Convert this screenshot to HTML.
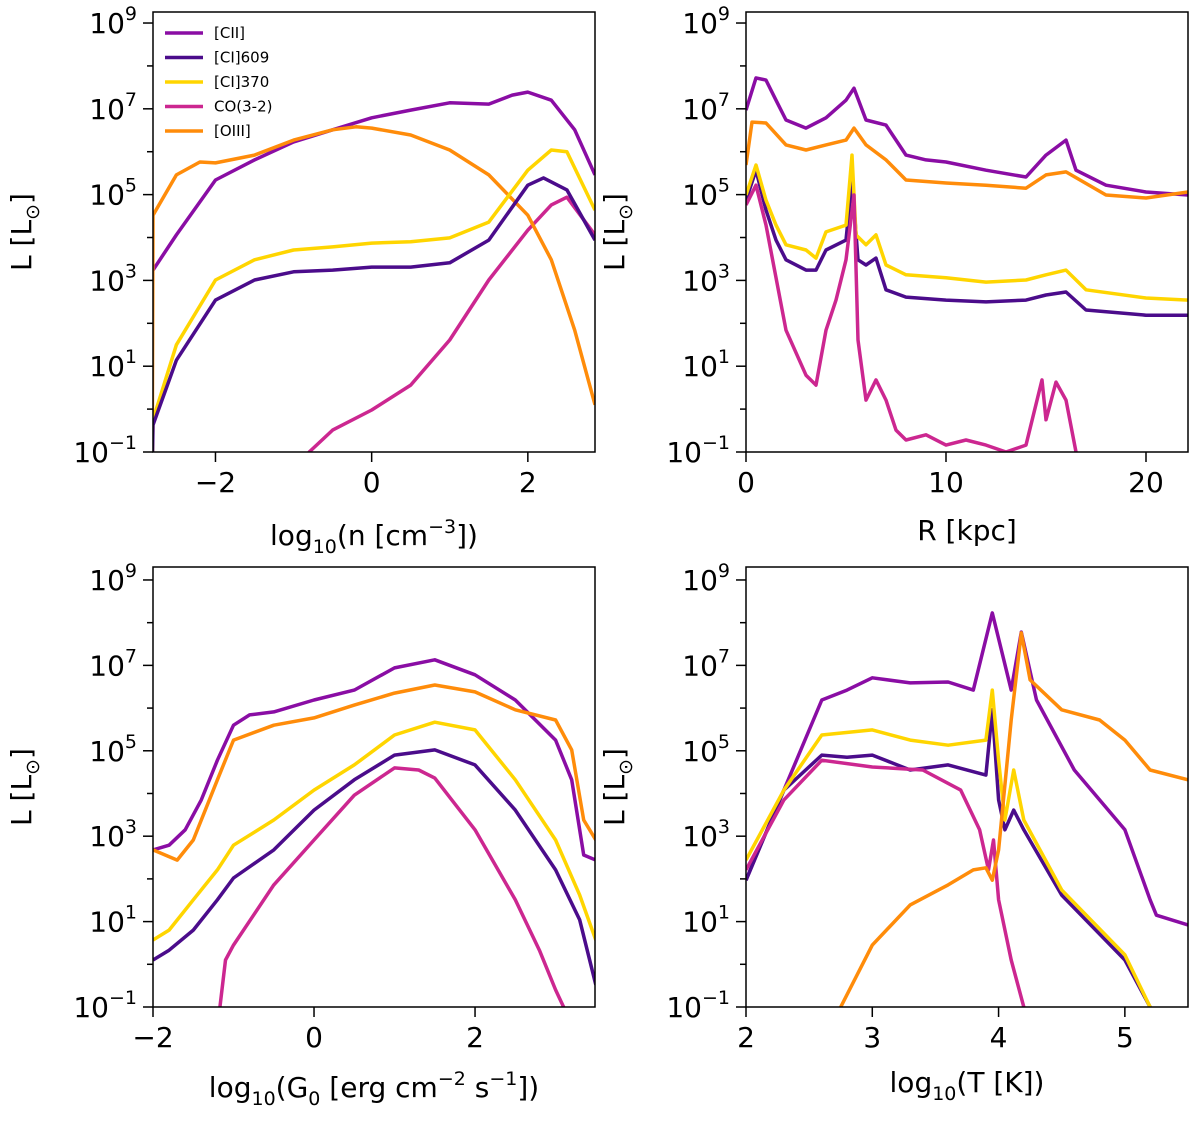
<!DOCTYPE html>
<html><head><meta charset="utf-8"><style>
body{margin:0;background:#fff}
svg text{font-family:"DejaVu Sans","Liberation Sans",sans-serif;fill:#000}
</style></head><body>
<svg id="fig" width="1200" height="1120" viewBox="0 0 1200 1120" xmlns="http://www.w3.org/2000/svg"></svg>
<script>
const seriesNames=["[CII]","[CI]609","[CI]370","CO(3-2)","[OIII]"];
const seriesColors=["#8a0da4","#4b0c8b","#ffd500","#cc2790","#ff8c0a"];
// Panel 1: log10 n
const p1CII_x=[-2.8,-2.5,-2,-1.5,-1,-0.5,0,0.5,1,1.5,1.8,2.0,2.3,2.6,2.86];
const p1CII_y=[3.24,4.06,5.34,5.81,6.23,6.51,6.79,6.97,7.14,7.11,7.32,7.39,7.2,6.51,5.46];
const p1OIII_x=[-2.81,-2.8,-2.5,-2.2,-2,-1.5,-1,-0.5,-0.2,0,0.5,1,1.5,2,2.3,2.6,2.86];
const p1OIII_y=[-1.5,4.52,5.46,5.76,5.74,5.92,6.27,6.51,6.58,6.55,6.39,6.04,5.46,4.52,3.48,1.84,0.1];
const p1CI370_x=[-2.81,-2.8,-2.5,-2,-1.5,-1,-0.5,0,0.5,1,1.5,2,2.3,2.5,2.86];
const p1CI370_y=[-1.5,-0.25,1.5,3.01,3.48,3.71,3.78,3.87,3.9,3.99,4.36,5.57,6.04,6.0,4.64];
const p1CI609_x=[-2.81,-2.8,-2.5,-2,-1.5,-1,-0.5,0,0.5,1,1.5,2,2.2,2.5,2.86];
const p1CI609_y=[-1.5,-0.37,1.14,2.54,3.01,3.2,3.24,3.31,3.31,3.41,3.94,5.22,5.39,5.11,3.94];
const p1CO_x=[-0.9,-0.8,-0.5,0,0.5,1,1.5,2,2.3,2.5,2.86];
const p1CO_y=[-1.3,-1.0,-0.49,-0.02,0.56,1.61,3.01,4.17,4.76,4.94,4.06];
// Panel 2: R kpc
const p2CII_x=[0,0.5,1,1.5,2,3,4,5,5.4,6,7,8,9,10,12,14,15,16,16.5,18,20,22.1];
const p2CII_y=[6.97,7.72,7.67,7.2,6.74,6.55,6.79,7.2,7.48,6.74,6.62,5.92,5.81,5.76,5.57,5.41,5.92,6.27,5.57,5.22,5.06,4.99];
const p2OIII_x=[0,0.3,1,2,3,4,5,5.4,6,7,8,10,12,14,15,16,18,20,22.1];
const p2OIII_y=[5.69,6.69,6.67,6.16,6.04,6.16,6.27,6.55,6.16,5.81,5.34,5.27,5.22,5.15,5.46,5.53,4.99,4.92,5.06];
const p2CI370_x=[0,0.5,1,1.5,2,3,3.5,4,5,5.3,5.5,6,6.5,7,8,10,12,14,15,16,17,20,22.1];
const p2CI370_y=[4.99,5.69,4.87,4.29,3.83,3.71,3.52,4.13,4.29,5.92,4.06,3.83,4.06,3.36,3.13,3.06,2.96,3.01,3.13,3.24,2.78,2.59,2.54];
const p2CI609_x=[0,0.5,1,1.5,2,3,3.5,4,5,5.3,5.6,6,6.5,7,8,10,12,14,15,16,17,20,22.1];
const p2CI609_y=[4.87,5.57,4.64,3.94,3.48,3.24,3.24,3.71,3.94,5.34,3.48,3.36,3.52,2.78,2.61,2.54,2.5,2.54,2.66,2.73,2.31,2.19,2.19];
const p2CO_x=[0,0.5,1,2,3,3.5,4,4.5,5,5.4,5.6,6,6.5,7,7.5,8,9,10,11,12,13,14,14.8,15,15.5,16,16.5,16.6];
const p2CO_y=[4.76,5.22,4.29,1.84,0.79,0.56,1.84,2.54,3.48,4.99,1.61,0.21,0.68,0.21,-0.49,-0.72,-0.6,-0.84,-0.72,-0.84,-1.0,-0.84,0.68,-0.25,0.63,0.21,-1.0,-1.5];
// Panel 3: log10 G0
const p3CII_x=[-2,-1.8,-1.6,-1.4,-1.2,-1,-0.8,-0.5,0,0.5,1,1.5,2,2.5,3,3.2,3.35,3.5];
const p3CII_y=[2.68,2.79,3.15,3.85,4.78,5.6,5.84,5.91,6.19,6.42,6.94,7.13,6.78,6.19,5.25,4.32,2.56,2.44];
const p3OIII_x=[-2,-1.7,-1.5,-1.2,-1,-0.5,0,0.5,1,1.5,2,2.5,3,3.2,3.35,3.5];
const p3OIII_y=[2.68,2.44,2.91,4.32,5.25,5.6,5.77,6.07,6.35,6.54,6.38,5.96,5.72,5.02,3.38,2.91];
const p3CI370_x=[-2,-1.8,-1.5,-1.2,-1,-0.5,0,0.5,1,1.5,2,2.5,3,3.3,3.5];
const p3CI370_y=[0.57,0.8,1.51,2.21,2.79,3.38,4.08,4.67,5.37,5.67,5.49,4.32,2.91,1.62,0.57];
const p3CI609_x=[-2,-1.8,-1.5,-1.2,-1,-0.5,0,0.5,1,1.5,2,2.5,3,3.3,3.5];
const p3CI609_y=[0.1,0.33,0.8,1.51,2.02,2.68,3.61,4.32,4.9,5.02,4.67,3.61,2.21,1.04,-0.48];
const p3CO_x=[-1.2,-1.1,-1,-0.5,0,0.5,1,1.3,1.5,2,2.5,2.8,3.0,3.1,3.15];
const p3CO_y=[-1.5,0.1,0.45,1.86,2.91,3.96,4.6,4.55,4.36,3.15,1.51,0.33,-0.6,-1.0,-1.5];
// Panel 4: log10 T
const p4CII_x=[2,2.3,2.6,2.8,3,3.3,3.6,3.8,3.95,4.1,4.18,4.3,4.6,5,5.2,5.25,5.5];
const p4CII_y=[1.97,4.08,6.19,6.42,6.71,6.59,6.61,6.42,8.23,6.42,7.78,6.19,4.55,3.15,1.51,1.15,0.92];
const p4OIII_x=[2.72,2.75,3,3.3,3.6,3.8,3.9,3.95,4.0,4.1,4.18,4.25,4.5,4.8,5,5.2,5.5];
const p4OIII_y=[-1.5,-1,0.45,1.39,1.86,2.21,2.26,1.97,2.68,5.72,7.76,6.66,5.96,5.72,5.25,4.55,4.32];
const p4CI370_x=[2,2.3,2.6,3,3.3,3.6,3.9,3.95,4.0,4.05,4.12,4.2,4.5,5,5.2,5.22];
const p4CI370_y=[2.44,4.08,5.37,5.49,5.25,5.13,5.25,6.42,4.78,3.38,4.55,3.38,1.74,0.22,-1,-1.5];
const p4CI609_x=[2,2.3,2.6,2.8,3,3.3,3.6,3.9,3.95,4.0,4.05,4.12,4.2,4.5,5,5.2,5.22];
const p4CI609_y=[1.97,4.08,4.9,4.85,4.9,4.55,4.67,4.43,5.96,3.85,3.15,3.61,3.15,1.62,0.1,-1,-1.5];
const p4CO_x=[2,2.3,2.6,3,3.4,3.7,3.85,3.92,3.96,4.0,4.1,4.2,4.22];
const p4CO_y=[2.21,3.85,4.78,4.62,4.55,4.08,3.15,2.21,2.91,1.51,0.1,-1,-1.5];
const xTicks1=[-2,0,2], xTicks2=[0,10,20], xTicks3=[-2,0,2], xTicks4=[2,3,4,5];

const NS="http://www.w3.org/2000/svg";
const fig=document.getElementById('fig');
function mk(tag,attrs,parent){const e=document.createElementNS(NS,tag);for(const k in attrs)e.setAttribute(k,attrs[k]);(parent||fig).appendChild(e);return e;}
const panels=[
 {id:'density',x0:153,x1:595,y0:12,y1:452,xmin:-2.8,xmax:2.86,ticks:xTicks1,label:'log<tspan font-size="19" dy="8">10</tspan><tspan dy="-8">(n [cm</tspan><tspan font-size="19" dy="-12">−3</tspan><tspan dy="12">])</tspan>',ly:545,
  s:[[p1CII_x,p1CII_y],[p1CI609_x,p1CI609_y],[p1CI370_x,p1CI370_y],[p1CO_x,p1CO_y],[p1OIII_x,p1OIII_y]],order:[3,0,4,2,1]},
 {id:'radius',x0:746,x1:1188,y0:12,y1:452,xmin:0,xmax:22.1,ticks:xTicks2,label:'R [kpc]',ly:540,
  s:[[p2CII_x,p2CII_y],[p2CI609_x,p2CI609_y],[p2CI370_x,p2CI370_y],[p2CO_x,p2CO_y],[p2OIII_x,p2OIII_y]],order:[0,1,2,3,4]},
 {id:'g0',x0:153,x1:595,y0:567,y1:1007,xmin:-2,xmax:3.49,ticks:xTicks3,label:'log<tspan font-size="19" dy="8">10</tspan><tspan dy="-8">(G</tspan><tspan font-size="19" dy="8">0</tspan><tspan dy="-8"> [erg cm</tspan><tspan font-size="19" dy="-12">−2</tspan><tspan dy="12"> s</tspan><tspan font-size="19" dy="-12">−1</tspan><tspan dy="12">])</tspan>',ly:1097,
  s:[[p3CII_x,p3CII_y],[p3CI609_x,p3CI609_y],[p3CI370_x,p3CI370_y],[p3CO_x,p3CO_y],[p3OIII_x,p3OIII_y]],order:[0,1,2,3,4]},
 {id:'temperature',x0:746,x1:1188,y0:567,y1:1007,xmin:2,xmax:5.5,ticks:xTicks4,label:'log<tspan font-size="19" dy="8">10</tspan><tspan dy="-8">(T [K])</tspan>',ly:1092,
  s:[[p4CII_x,p4CII_y],[p4CI609_x,p4CI609_y],[p4CI370_x,p4CI370_y],[p4CO_x,p4CO_y],[p4OIII_x,p4OIII_y]],order:[0,1,2,3,4]}
];
panels.forEach((p,pi)=>{
 const g=mk('g',{});
 
 
 const ytop=9+(( (p.y0===12?23:580) - p.y0)/42.8);
 const X=v=>p.x0+(v-p.xmin)/(p.xmax-p.xmin)*(p.x1-p.x0);
 const Y=v=>p.y1-(v-(-1))/(ytop+1)*(p.y1-p.y0);
 const cid='clip'+pi;
 const cp=mk('clipPath',{id:cid},g);mk('rect',{x:p.x0,y:p.y0,width:p.x1-p.x0,height:p.y1-p.y0},cp);
 const lg=mk('g',{'clip-path':'url(#'+cid+')'},g);
 p.order.forEach(si=>{
  const [xs,ys]=p.s[si];
  const d=xs.map((x,i)=>(i?'L':'M')+X(x).toFixed(1)+','+Y(ys[i]).toFixed(1)).join(' ');
  const path=mk('path',{d:d,fill:'none',stroke:seriesColors[si],'stroke-width':3.5,'stroke-linejoin':'round'},lg);
  
  
 });
 const fr=mk('rect',{x:p.x0,y:p.y0,width:p.x1-p.x0,height:p.y1-p.y0,fill:'none',stroke:'#000','stroke-width':1.5},g);
 
 
 for(let e=-1;e<=9;e++){
  const y=Y(e);const major=(e%2!==0);
  mk('line',{x1:p.x0,x2:p.x0-(major?10:6),y1:y,y2:y,stroke:'#000','stroke-width':1.5},g);
  if(major){const t=mk('text',{x:p.x0-16,y:y+10,'text-anchor':'end','font-size':28},g);
   t.innerHTML='10<tspan font-size="19" dy="-13">'+(e<0?'−1':e)+'</tspan>';
   
   }
 }
 p.ticks.forEach(v=>{const x=X(v);mk('line',{x1:x,x2:x,y1:p.y1,y2:p.y1+10,stroke:'#000','stroke-width':1.5},g);
  const t=mk('text',{x:x,y:p.y1+40,'text-anchor':'middle','font-size':28},g);t.textContent=(v<0?'−'+(-v):v);
  
  });
 const xl=mk('text',{x:(p.x0+p.x1)/2,y:p.ly,'text-anchor':'middle','font-size':28},g);xl.innerHTML=p.label;
 
 
 const yc=(p.y0+p.y1)/2, yx=p.x0-122;
 const yl=mk('text',{x:yx,y:yc,'text-anchor':'middle','font-size':28,transform:'rotate(-90 '+yx+' '+yc+')'},g);
 yl.innerHTML='L [L<tspan font-size="19" dy="8">⊙</tspan><tspan dy="-8">]</tspan>';
 
 
});
const leg=mk('g',{});


seriesNames.forEach((n,i)=>{const y=33+i*24.5;
 const en=mk('g',{},leg);
 
 
 mk('line',{x1:165,x2:203,y1:y,y2:y,stroke:seriesColors[i],'stroke-width':3.5},en);
 const t=mk('text',{x:214,y:y+5,'font-size':15},en);t.textContent=n;});
</script>
</body></html>
